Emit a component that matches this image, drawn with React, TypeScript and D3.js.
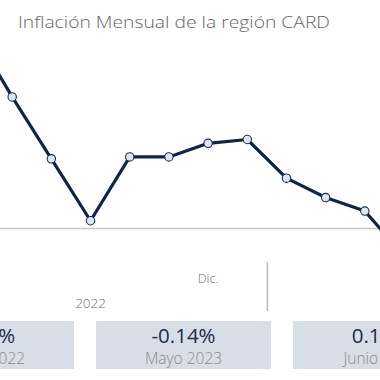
import React from "react";
import * as d3 from "d3";

const months = ["Jun", "Jul", "Ago", "Sep", "Oct", "Nov", "Dic", "Ene", "Feb", "Mar", "Abr", "May"];
const values = [1.02, 0.68, 0.36, 0.04, 0.37, 0.37, 0.44, 0.46, 0.26, 0.16, 0.09, -0.14];
const axisLabels = [{ idx: 6, text: "Dic.", level: 0 }, { idx: 3, text: "2022", level: 1 }];
const dividerAt = 7.5;
const boxValues = ["0.62%", "-0.14%", "0.12%"];
const boxLabels = ["Mayo 2022", "Mayo 2023", "Junio 2023"];

export default function App() {
  const W = 380, H = 380;
  const x = d3.scaleLinear().domain([0, 11]).range([-27, 404]);
  const y = d3.scaleLinear().domain([0, 1]).range([228.5, 35]);
  const line = d3.line<number>().x((_, i) => x(i)).y((d) => y(d));
  const boxX = d3.scaleLinear().domain([0, 1]).range([-101, 96]);
  const boxW = 175;
  const font = "'Open Sans', sans-serif";
  return (
    <svg width={W} height={H} style={{ position: "absolute", left: 0, top: 0, background: "#fff" }}>
      <text x={18} y={28} fontFamily={font} fontWeight={300} fontSize={17} fill="#666"
        textLength={312} lengthAdjust="spacingAndGlyphs">
        Inflación Mensual de la región CARD
      </text>
      <line x1={0} x2={W} y1={y(0)} y2={y(0)} stroke="#c6c6c6" strokeWidth={1.6} />
      <path d={line(values) || ""} fill="none" stroke="#0f2447" strokeWidth={3.2} strokeLinejoin="round" />
      {values.map((v, i) => (
        <circle key={months[i]} cx={x(i)} cy={y(v)} r={4.2} fill="#dde5f1" stroke="#1c2d4f" strokeWidth={1.1} />
      ))}
      {axisLabels.map((l) => (
        <text key={l.text} x={x(l.idx)} y={l.level === 0 ? 283 : 307.5} textAnchor="middle" fontFamily={font}
          fontWeight={300} fontSize={l.level === 0 ? 12.5 : 13.5} fill="#6f6f6f">{l.text}</text>
      ))}
      <line x1={x(dividerAt) + 0.5} x2={x(dividerAt) + 0.5} y1={262} y2={311} stroke="#bdbdbd" strokeWidth={1.6} />
      {boxValues.map((v, i) => {
        const bx = boxX(i);
        return (
          <g key={boxLabels[i]}>
            <rect x={bx} y={321} width={boxW} height={48} fill="#d7dee7" />
            <text x={bx + boxW / 2} y={343} textAnchor="middle" fontFamily={font} fontWeight={400}
              fontSize={20.5} fill="#1e2c4a">{v}</text>
            <text x={bx + boxW / 2} y={363.5} textAnchor="middle" fontFamily={font} fontWeight={300}
              fontSize={15.5} fill="#8a8a8a">{boxLabels[i]}</text>
          </g>
        );
      })}
    </svg>
  );
}
